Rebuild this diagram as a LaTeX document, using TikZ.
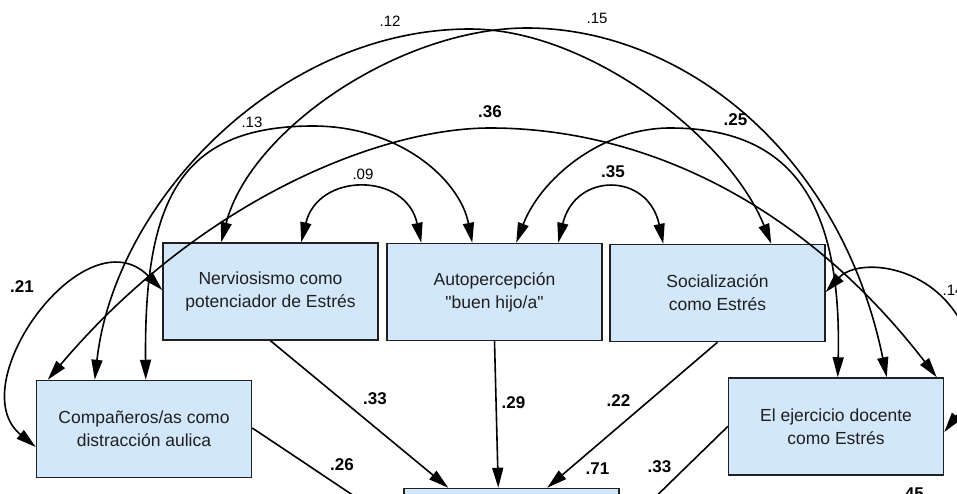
\documentclass[tikz,border=0pt]{standalone}
\usepackage{fontspec}
\setmainfont{Liberation Sans}[Ligatures=TeXOff]
\usetikzlibrary{arrows.meta,calc}
\definecolor{boxfill}{HTML}{D3E7FB}
\definecolor{boxline}{HTML}{202020}
\begin{document}
\begin{tikzpicture}[x=1pt,y=-1pt,
  var/.style={draw=boxline,line width=1.5pt,fill=boxfill,minimum width=215pt,minimum height=97pt,inner sep=0pt,align=center,font=\fontsize{17.5}{23}\selectfont,text=black!88},
  link/.style={line width=1.6pt,-{Triangle[length=20pt,width=11pt]}},
  cor/.style={line width=1.6pt,{Triangle[length=20pt,width=11pt]}-{Triangle[length=20pt,width=11pt]}},
  lab/.style={font=\fontsize{15}{15}\selectfont,inner sep=0pt},
  blab/.style={font=\fontsize{17}{17}\selectfont\bfseries,inner sep=0pt}]
\useasboundingbox (0,0) rectangle (957,493);
\clip (0,0) rectangle (957,493);
% boxes
\node[var] (N) at (270.5,291.5) {Nerviosismo como\\potenciador de Estrés};
\node[var] (A) at (494.5,292) {Autopercepción\\"buen hijo/a"};
\node[var] (S) at (717.5,293) {Socialización\\como Estrés};
\node[var] (C) at (144,429) {Compañeros/as como\\distracción aulica};
\node[var] (E) at (836,426.5) {El ejercicio docente\\como Estrés};
\node[var] (B) at (511.5,537) {};
% correlations
\draw[cor] ($(N.north west)+(139,0)$) .. controls (318,172) and (406,172) .. ($(A.north west)+(35,0)$);
\draw[cor] ($(A.north west)+(172,0)$) .. controls (575,172) and (648,172) .. ($(S.north west)+(54,0)$);
\draw[cor] ($(C.north west)+(110,0)$) .. controls (144,200) and (180,126) .. (313,126) .. controls (400,126) and (460,180) .. ($(A.north west)+(86,0)$);
\draw[cor] ($(C.north west)+(12,0)$) .. controls (200,200) and (380,128) .. (490,128) .. controls (640,128) and (800,200) .. ($(E.north west)+(209,0)$);
\draw[cor] ($(A.north west)+(130,0)$) .. controls (540,180) and (600,128) .. (670,128) .. controls (790,128) and (842,200) .. ($(E.north west)+(110,0)$);
\draw[cor] ($(C.north west)+(59,0)$) .. controls (115,200) and (280,29) .. (470,29) .. controls (590,29) and (730,140) .. ($(S.north west)+(162,0)$);
\draw[cor] ($(N.north west)+(59,0)$) .. controls (250,130) and (400,28) .. (527,28) .. controls (680,28) and (840,150) .. ($(E.north west)+(159,0)$);
\draw[cor] ($(N.west)+(0,-1.5)$) .. controls (85,212) and (-40,385) .. ($(C.west)+(0,18)$);
\draw[cor] ($(S.east)+(0,-1)$) .. controls (860,255) and (950,265) .. (972,350) .. controls (985,390) and (965,405) .. ($(E.east)+(0,5.5)$);
% regressions
\draw[link] (N.south) -- ($(B.north west)+(45,0)$);
\draw[link] (A.south) -- ($(B.north west)+(95,0)$);
\draw[link] (S.south) -- ($(B.north west)+(144,0)$);
\draw[link] ($(C.east)+(0,-1)$) -- ($(B.north west)+(0,41)$);
\draw[link] (E.west) -- ($(B.north east)+(0,44)$);
% labels
\node[lab] (l12) at (390,21) {.12};
\node[lab] (l15) at (597,18.5) {.15};
\node[lab] (l13) at (252,122.5) {.13};
\node[lab] (l09) at (363,174) {.09};
\node[lab] (l14) at (953,290) {.14};
\node[blab] (l36) at (490,112) {.36};
\node[blab] (l25) at (735.5,120) {.25};
\node[blab] (l35) at (613,171.5) {.35};
\node[blab] (l21) at (22,287) {.21};
\node[blab] (l33a) at (375,398.5) {.33};
\node[blab] (l29) at (513.5,403) {.29};
\node[blab] (l22) at (618.5,400.5) {.22};
\node[blab] (l71) at (597.5,468.5) {.71};
\node[blab] (l33b) at (659.5,466.5) {.33};
\node[blab] (l26) at (342,465) {.26};
\node[blab] (l45) at (912,494) {.45};
\end{tikzpicture}
\end{document}
